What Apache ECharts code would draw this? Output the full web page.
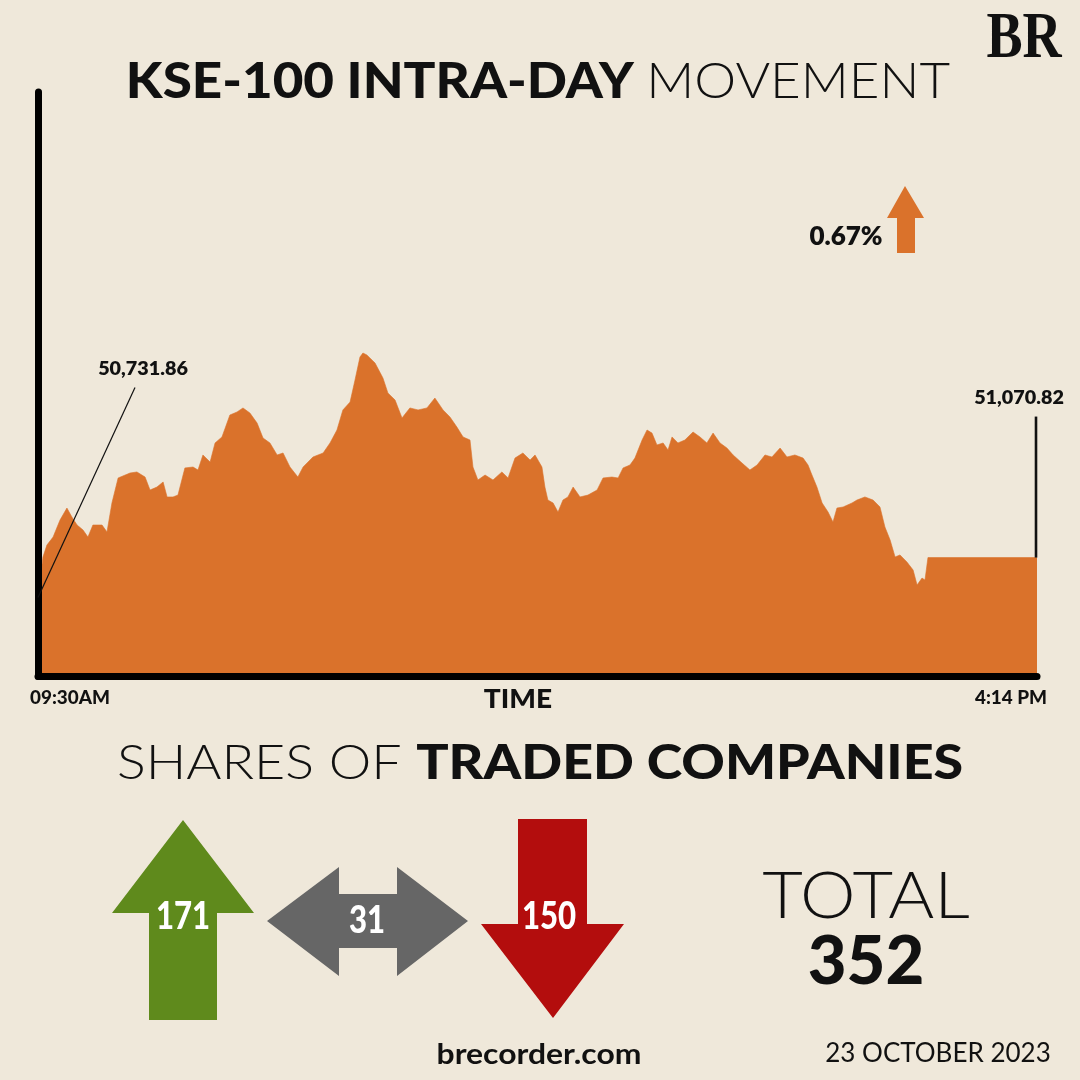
<!DOCTYPE html>
<html>
<head>
<meta charset="utf-8">
<title>KSE-100 Intra-day movement</title>
<script src="https://cdn.jsdelivr.net/npm/echarts@6/dist/echarts.min.js"></script>
<style>
html,body{margin:0;padding:0;background:#efe8da;}
#main{width:1080px;height:1080px;}
</style>
</head>
<body>
<div id="main"></div>
<script>
// minutes after 09:30 and index level
var minutes = [0,2.0,3.6,6.1,8.9,11.7,13.7,15.8,18.2,20.2,22.2,25.9,27.9,29.9,32.4,37.2,40.0,43.3,45.3,48.1,
	50.6,52.2,54.6,56.6,59.4,62.7,64.7,66.7,69.6,71.6,74.4,77.6,80.5,82.9,85.7,88.6,91.0,93.8,96.7,99.1,
	101.9,105.1,107.2,111.2,115.3,118.1,120.9,123.3,126.2,128.2,130.2,131.4,133.0,136.3,139.5,141.5,144.4,147.2,150.4,153.7,
	157.3,160.5,163.8,166.6,169.4,171.9,174.7,175.9,177.9,180.8,184.0,187.6,190.1,192.9,196.1,199.0,201.0,203.8,205.0,206.2,
	208.3,210.3,212.3,214.3,216.4,219.2,222.4,226.1,228.5,232.1,234.6,236.6,239.4,241.4,244.3,246.3,248.3,250.3,252.8,254.8,
	256.4,258.8,261.6,264.9,267.7,270.5,273.0,275.8,278.6,281.1,284.7,287.9,290.8,294.0,296.8,300.1,302.9,306.1,309.4,311.4,
	313.0,315.0,317.1,319.5,321.5,323.1,325.6,329.2,331.2,334.4,337.7,340.5,342.5,344.6,346.6,348.6,351.4,353.9,355.5,357.5,
	358.7,359.9,404];
var kseValues = [50731.86,51075,51177,51245,51389,51491,51415,51347,51305,51245,51347,51347,51288,51534,51746,51788,51797,51754,51644,51669,
	51712,51585,51585,51601,51831,51839,51814,51941,51881,52043,52094,52280,52306,52340,52297,52212,52085,52043,51941,51958,
	51839,51754,51839,51924,51958,52043,52153,52323,52390,52577,52772,52806,52789,52721,52594,52467,52407,52255,52340,52323,
	52340,52424,52323,52263,52178,52094,52068,51839,51729,51771,51729,51797,51746,51915,51958,51898,51941,51839,51669,51559,
	51534,51457,51559,51585,51669,51585,51601,51644,51746,51754,51746,51831,51856,51915,52068,52153,52127,52026,52043,51983,
	52094,52043,52068,52136,52094,52043,52127,52043,52000,51941,51873,51814,51856,51941,51924,52000,51924,51941,51915,51856,
	51771,51669,51534,51457,51372,51491,51500,51534,51559,51585,51559,51500,51330,51220,51076,51093,51033,50965,50838,50897,
	50880,51070.82,51070.82];
var timeLabels = ['09:30AM', '4:14 PM'];
var shareLabels = ['advanced', 'unchanged', 'declined'];
var shareCounts = [171, 31, 150];
var reportDate = '23 OCTOBER 2023';

var bg = '#efe8da';
var orange = '#da722b';

function fmt(v){
	return v.toLocaleString('en-US', {minimumFractionDigits:2, maximumFractionDigits:2});
}

var seriesData = [];
minutes.forEach(function(m, i){
	seriesData.push([m, kseValues[i]]);
});

var openVal = kseValues[0];
var closeVal = kseValues[kseValues.length-1];
var changePct = ((closeVal - openVal) / openVal * 100).toFixed(2) + '%';
var total = shareCounts[0] + shareCounts[1] + shareCounts[2];

var myChart = echarts.init(document.getElementById('main'));

var option = {
	backgroundColor: bg,
	animation: false,
	grid: {left: 38, right: 43, top: 92, bottom: 403.5},
	xAxis: {
		type: 'value', min: 0, max: 404, z: 5,
		axisLine: {show: true, lineStyle: {color: '#000', width: 7, cap: 'round'}},
		axisTick: {show: false}, axisLabel: {show: false}, splitLine: {show: false}
	},
	yAxis: {
		type: 'value', min: 50062, max: 55020, offset: 4.5, z: 5,
		axisLine: {show: true, lineStyle: {color: '#000', width: 7, cap: 'round'}},
		axisTick: {show: false}, axisLabel: {show: false}, splitLine: {show: false}
	},
	series: [{
		name: 'KSE-100',
		type: 'line',
		data: seriesData,
		showSymbol: false,
		symbol: 'none',
		lineStyle: {color: orange, width: 0.6},
		areaStyle: {color: orange, opacity: 1}
	}]
};
myChart.setOption(option);

// label positions follow the first and last points of the series
var p0 = myChart.convertToPixel({gridIndex: 0}, seriesData[0]);
var pE = myChart.convertToPixel({gridIndex: 0}, seriesData[seriesData.length-1]);

function txt(x, y, text, size, weight, family, color, align, sx){
	return {
		type: 'text', x: x, y: y, scaleX: sx || 1, z: 20,
		style: {
			text: text, fill: color || '#111', align: align || 'center', verticalAlign: 'middle',
			fontSize: size, fontWeight: weight, fontFamily: family
		}
	};
}
function poly(points, color){
	return {type: 'polygon', z: 10, shape: {points: points}, style: {fill: color}};
}

var geo = 'Lato, "Noto Sans", sans-serif';

var graphics = [
	// title
	{
		type: 'text', x: 538, y: 82, z: 20, scaleX: 1.08,
		style: {
			text: '{b|KSE-100 INTRA-DAY }{l|MOVEMENT}', align: 'center', verticalAlign: 'middle',
			rich: {
				b: {fontSize: 49, fontWeight: 900, fontFamily: geo, fill: '#111'},
				l: {fontSize: 49, fontWeight: 300, fontFamily: geo, fill: '#111'}
			}
		}
	},
	txt(1024, 40, 'BR', 66, 'bold', '"Liberation Serif", serif', '#111', 'center', 0.82),
	// change
	txt(846, 237, changePct, 26, 800, geo),
	poly([[905,186],[924,218],[915,218],[915,253],[897,253],[897,218],[887,218]], orange),
	// open/close annotations
	{type: 'line', z: 12, shape: {x1: p0[0], y1: p0[1], x2: p0[0] + 97, y2: p0[1] - 210}, style: {stroke: '#111', lineWidth: 1.2}},
	txt(143, 369, fmt(openVal), 19, 800, geo, '#111', 'center', 1.04),
	{type: 'line', z: 12, shape: {x1: pE[0] - 1, y1: pE[1], x2: pE[0] - 1, y2: pE[1] - 141}, style: {stroke: '#111', lineWidth: 2.6}},
	txt(1019, 398, fmt(closeVal), 19, 800, geo, '#111', 'center', 1.04),
	// axis texts
	txt(70, 698, timeLabels[0], 18, 900, geo, '#111', 'center', 1.05),
	txt(518, 700, 'TIME', 26, 900, geo, '#111', 'center', 1.08),
	txt(1011, 698, timeLabels[1], 18, 900, geo, '#111', 'center', 1.05),
	// second heading
	{
		type: 'text', x: 540, y: 764, z: 20, scaleX: 1.12,
		style: {
			text: '{l|SHARES OF }{b|TRADED COMPANIES}', align: 'center', verticalAlign: 'middle',
			rich: {
				b: {fontSize: 48, fontWeight: 900, fontFamily: geo, fill: '#111'},
				l: {fontSize: 48, fontWeight: 300, fontFamily: geo, fill: '#111'}
			}
		}
	},
	// arrows
	poly([[183,820],[254,913],[217,913],[217,1020],[149,1020],[149,913],[112,913]], '#5f8a1c'),
	poly([[267,921],[339,867],[339,894],[397,894],[397,867],[468,921],[397,976],[397,948],[339,948],[339,976]], '#666666'),
	poly([[518,819],[587,819],[587,924],[624,924],[553,1018],[481,924],[518,924]], '#b30d0d'),
	txt(183, 917, String(shareCounts[0]), 38, 900, geo, '#fff', 'center', 0.82),
	txt(367, 921, String(shareCounts[1]), 38, 900, geo, '#fff', 'center', 0.82),
	txt(549, 917, String(shareCounts[2]), 38, 900, geo, '#fff', 'center', 0.82),
	// total
	txt(866, 897, 'TOTAL', 65, 300, geo, '#111', 'center', 1.08),
	txt(866, 962, String(total), 67, 900, geo),
	// footer
	txt(539, 1055, 'brecorder.com', 29, 'bold', geo, '#111', 'center', 1.1),
	txt(938, 1054, reportDate, 26, 400, geo)
];

myChart.setOption({graphic: graphics});
</script>
</body>
</html>
